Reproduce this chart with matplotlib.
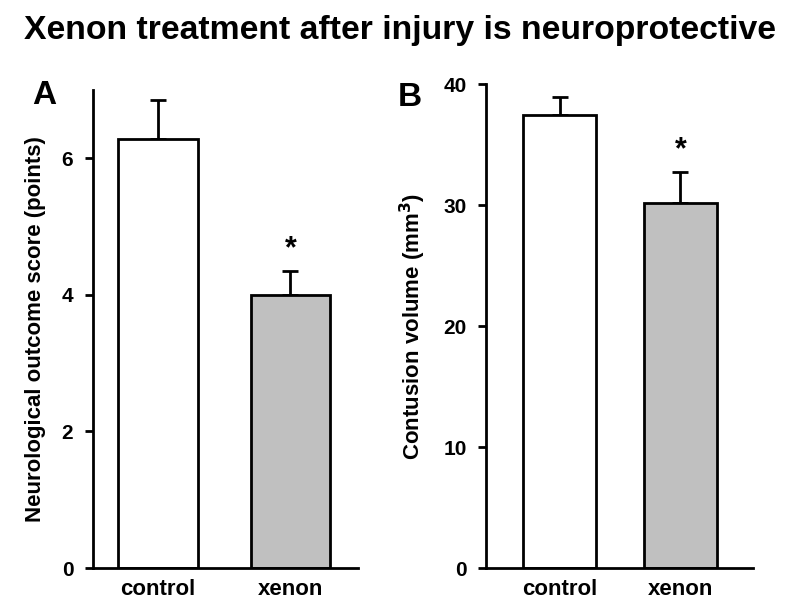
import matplotlib.pyplot as plt

plt.rcParams['font.family'] = ['Liberation Sans', 'DejaVu Sans']
plt.rcParams['font.weight'] = 'bold'

groups = ["control", "xenon"]
score_mean = [6.28, 4.0]
score_sem = [0.58, 0.35]
volume_mean = [37.4, 30.2]
volume_sem = [1.5, 2.5]
bar_colors = ["white", "#c0c0c0"]

LW = 2.0


def draw_panel(ax, means, sems, ylim, yticks, ylabel, xlim):
    x = [1, 2]
    ax.bar(x, means, width=0.6, color=bar_colors, edgecolor="black",
           linewidth=LW, zorder=2)
    ax.errorbar(x, means, yerr=[[0, 0], sems], fmt="none", ecolor="black",
                elinewidth=LW, capsize=5.5, capthick=LW, zorder=1)
    ax.set_xlim(*xlim)
    ax.set_ylim(*ylim)
    ax.set_yticks(yticks)
    ax.set_xticks(x)
    ax.set_xticklabels(groups, fontsize=16, fontweight="bold")
    ax.tick_params(axis="x", length=0, pad=8)
    ax.tick_params(axis="y", length=6, width=LW, labelsize=15, pad=8)
    for lab in ax.get_yticklabels():
        lab.set_fontweight("bold")
    ax.spines["top"].set_visible(False)
    ax.spines["right"].set_visible(False)
    ax.spines["left"].set_linewidth(LW)
    ax.spines["bottom"].set_linewidth(LW)
    ax.spines["left"].set_bounds(0, ylim[1])
    ax.set_ylabel(ylabel, fontsize=16, fontweight="bold", labelpad=11)
    # significance marker above xenon
    ax.text(2, means[1] + sems[1] + (ylim[1] * 0.015), "*", ha="center",
            va="bottom", fontsize=22, fontweight="bold")


fig = plt.figure(figsize=(8, 6.15), dpi=100)
ax_a = fig.add_axes([0.116, 0.0764, 0.3315, 0.7773])
ax_b = fig.add_axes([0.6075, 0.0764, 0.3335, 0.787])

draw_panel(ax_a, score_mean, score_sem, (0, 7.0), [0, 2, 4, 6],
           "Neurological outcome score (points)", (0.51, 2.51))
draw_panel(ax_b, volume_mean, volume_sem, (0, 40), [0, 10, 20, 30, 40],
           "Contusion volume (mm$^\\mathbf{3}$)", (0.39, 2.6))

fig.text(0.5, 0.95, "Xenon treatment after injury is neuroprotective",
         ha="center", va="center", fontsize=24.3, fontweight="bold")
fig.text(0.055, 0.845, "A", ha="center", va="center", fontsize=24,
         fontweight="bold")
fig.text(0.512, 0.842, "B", ha="center", va="center", fontsize=24,
         fontweight="bold")

fig.savefig("out.png", dpi=100)
